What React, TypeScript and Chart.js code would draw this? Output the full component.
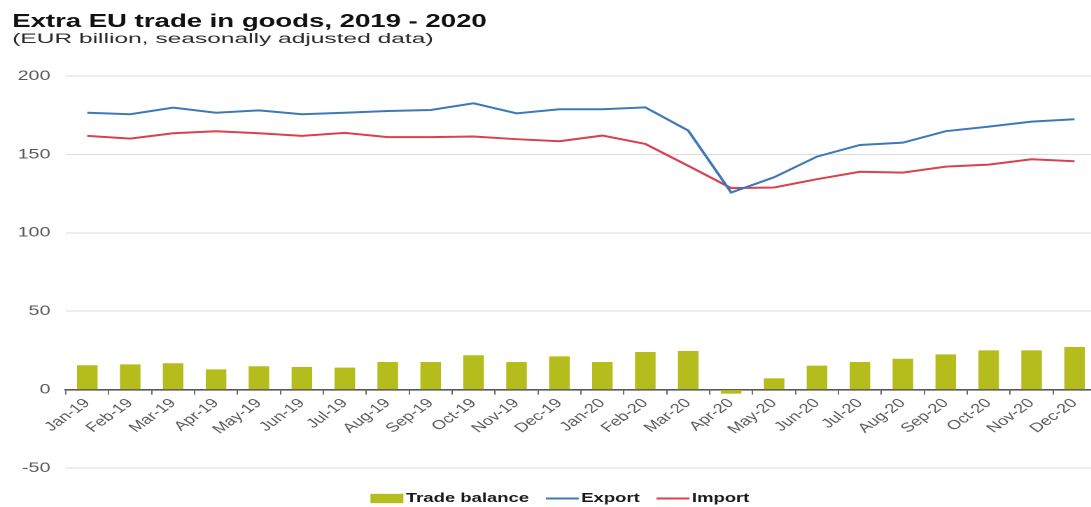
import React, { useEffect, useRef } from 'react';
import { Chart, registerables } from 'chart.js';

Chart.register(...registerables);

const TITLE = 'Extra EU trade in goods, 2019 - 2020';
const SUBTITLE = '(EUR billion, seasonally adjusted data)';

const months = [
  'Jan-19', 'Feb-19', 'Mar-19', 'Apr-19', 'May-19', 'Jun-19', 'Jul-19', 'Aug-19',
  'Sep-19', 'Oct-19', 'Nov-19', 'Dec-19', 'Jan-20', 'Feb-20', 'Mar-20', 'Apr-20',
  'May-20', 'Jun-20', 'Jul-20', 'Aug-20', 'Sep-20', 'Oct-20', 'Nov-20', 'Dec-20',
];

const tradeBalance = [
  15.5, 16.1, 16.8, 12.9, 14.9, 14.4, 14.0, 17.6, 17.6, 21.9, 17.6, 21.2,
  17.6, 24.0, 24.6, -2.6, 7.2, 15.3, 17.6, 19.7, 22.5, 25.0, 25.0, 27.2,
];

const exportValues = [
  176.6, 175.6, 179.8, 176.6, 178.1, 175.6, 176.6, 177.7, 178.3, 182.6, 176.2, 178.8,
  178.8, 180.0, 165.2, 125.7, 135.4, 148.6, 156.0, 157.5, 164.8, 167.7, 170.9, 172.4,
];

const importValues = [
  161.8, 160.1, 163.5, 164.8, 163.5, 161.8, 163.7, 161.0, 161.0, 161.4, 159.7, 158.4,
  162.0, 156.7, 142.7, 128.5, 128.9, 134.2, 138.9, 138.4, 142.2, 143.5, 146.9, 145.6,
];

const yTickValues = [-50, 0, 50, 100, 150, 200];

const seriesLabels = ['Trade balance', 'Export', 'Import'];

const BAR_COLOR = '#b5bd1d';
const EXPORT_COLOR = '#3f78b6';
const IMPORT_COLOR = '#d8414d';
const FONT = '"Liberation Sans", Arial, Helvetica, sans-serif';

// The reference image is a horizontally stretched chart: draw at a narrower
// internal width and stretch the canvas with CSS.
const STRETCH_X = 1.4;
const CANVAS_W = 783;
const CANVAS_H = 507;

function drawFitted(ctx: CanvasRenderingContext2D, text: string, x: number, y: number, font: string, color: string, targetW: number) {
  ctx.save();
  ctx.font = font;
  ctx.fillStyle = color;
  ctx.textAlign = 'left';
  ctx.textBaseline = 'alphabetic';
  const w = ctx.measureText(text).width;
  ctx.translate(x, y);
  ctx.scale(targetW / w, 1);
  ctx.fillText(text, 0, 0);
  ctx.restore();
}

const headerPlugin = {
  id: 'headerText',
  afterDraw(chart: any) {
    const ctx = chart.ctx as CanvasRenderingContext2D;
    drawFitted(ctx, TITLE, 8.7, 26.8, `bold 18px ${FONT}`, '#111111', 339);
    drawFitted(ctx, SUBTITLE, 8.7, 42.8, `13.5px ${FONT}`, '#2a2a2a', 301);
  },
};

const legendPlugin = {
  id: 'customLegend',
  afterDraw(chart: any) {
    const ctx = chart.ctx as CanvasRenderingContext2D;
    const symW = 23.5;
    const symGap = 1.8;
    const itemGap = 12;
    const cy = 498.5;
    ctx.save();
    ctx.font = `bold 13.2px ${FONT}`;
    ctx.textBaseline = 'middle';
    ctx.textAlign = 'left';
    const items = chart.data.datasets.map((ds: any) => ({
      label: ds.label,
      isLine: ds.type === 'line',
      color: ds.type === 'line' ? ds.borderColor : ds.backgroundColor,
    }));
    const widths = items.map((it: any) => symW + symGap + ctx.measureText(it.label).width);
    const total = widths.reduce((a: number, b: number) => a + b, 0) + itemGap * (items.length - 1);
    let x = 400 - total / 2;
    items.forEach((it: any, i: number) => {
      if (it.isLine) {
        ctx.strokeStyle = it.color;
        ctx.lineWidth = 2;
        ctx.beginPath();
        ctx.moveTo(x, cy);
        ctx.lineTo(x + symW, cy);
        ctx.stroke();
      } else {
        ctx.fillStyle = it.color;
        ctx.fillRect(x, cy - 4.7, symW, 9.4);
      }
      ctx.fillStyle = '#1a1a1a';
      ctx.fillText(it.label, x + symW + symGap, cy);
      x += widths[i] + itemGap;
    });
    ctx.restore();
  },
};

export default function App() {
  const canvasRef = useRef<HTMLCanvasElement | null>(null);

  useEffect(() => {
    const canvas = canvasRef.current;
    if (!canvas) return;
    const chart = new Chart(canvas, {
      type: 'bar',
      data: {
        labels: months,
        datasets: [
          {
            type: 'bar',
            label: seriesLabels[0],
            data: tradeBalance,
            backgroundColor: BAR_COLOR,
            borderWidth: 0,
            barPercentage: 0.48,
            categoryPercentage: 1,
            order: 3,
          } as any,
          {
            type: 'line',
            label: seriesLabels[1],
            data: exportValues,
            borderColor: EXPORT_COLOR,
            backgroundColor: EXPORT_COLOR,
            borderWidth: 2,
            pointRadius: 0,
            tension: 0,
            fill: false,
            order: 1,
          } as any,
          {
            type: 'line',
            label: seriesLabels[2],
            data: importValues,
            borderColor: IMPORT_COLOR,
            backgroundColor: IMPORT_COLOR,
            borderWidth: 2,
            pointRadius: 0,
            tension: 0,
            fill: false,
            order: 2,
          } as any,
        ],
      },
      options: {
        responsive: false,
        maintainAspectRatio: false,
        devicePixelRatio: 2,
        animation: false,
        events: [],
        layout: { padding: { top: 76, bottom: 39, left: 0, right: 0 } },
        plugins: {
          legend: { display: false },
          title: { display: false },
          tooltip: { enabled: false },
        },
        scales: {
          x: {
            position: { y: 0 } as any,
            offset: true,
            grid: {
              drawOnChartArea: false,
              drawTicks: true,
              tickLength: 4,
              color: '#6a6a6a',
              lineWidth: 1,
              offset: true,
            },
            border: { display: true, color: '#5a5a5a', width: 1.6 },
            ticks: {
              autoSkip: false,
              maxRotation: 45,
              minRotation: 45,
              padding: 2,
              color: '#5a5a5a',
              font: { family: FONT, size: 13 },
            },
          },
          y: {
            min: -50,
            max: 200,
            afterBuildTicks: (scale: any) => {
              scale.ticks = yTickValues.map((v) => ({ value: v }));
            },
            afterFit: (scale: any) => {
              scale.width = 47;
            },
            grid: { color: '#dcdcdc', lineWidth: 1, drawTicks: false },
            border: { display: false },
            ticks: {
              padding: 11,
              color: '#5a5a5a',
              font: { family: FONT, size: 14 },
            },
          },
        },
      },
      plugins: [headerPlugin, legendPlugin],
    } as any);
    return () => chart.destroy();
  }, []);

  return (
    <div
      style={{
        position: 'fixed',
        left: 0,
        top: 0,
        width: 1091,
        height: 507,
        overflow: 'hidden',
        background: '#ffffff',
      }}
    >
      <canvas
        ref={canvasRef}
        width={CANVAS_W}
        height={CANVAS_H}
        style={{ width: `${CANVAS_W * STRETCH_X}px`, height: `${CANVAS_H}px`, display: 'block' }}
      />
    </div>
  );
}
